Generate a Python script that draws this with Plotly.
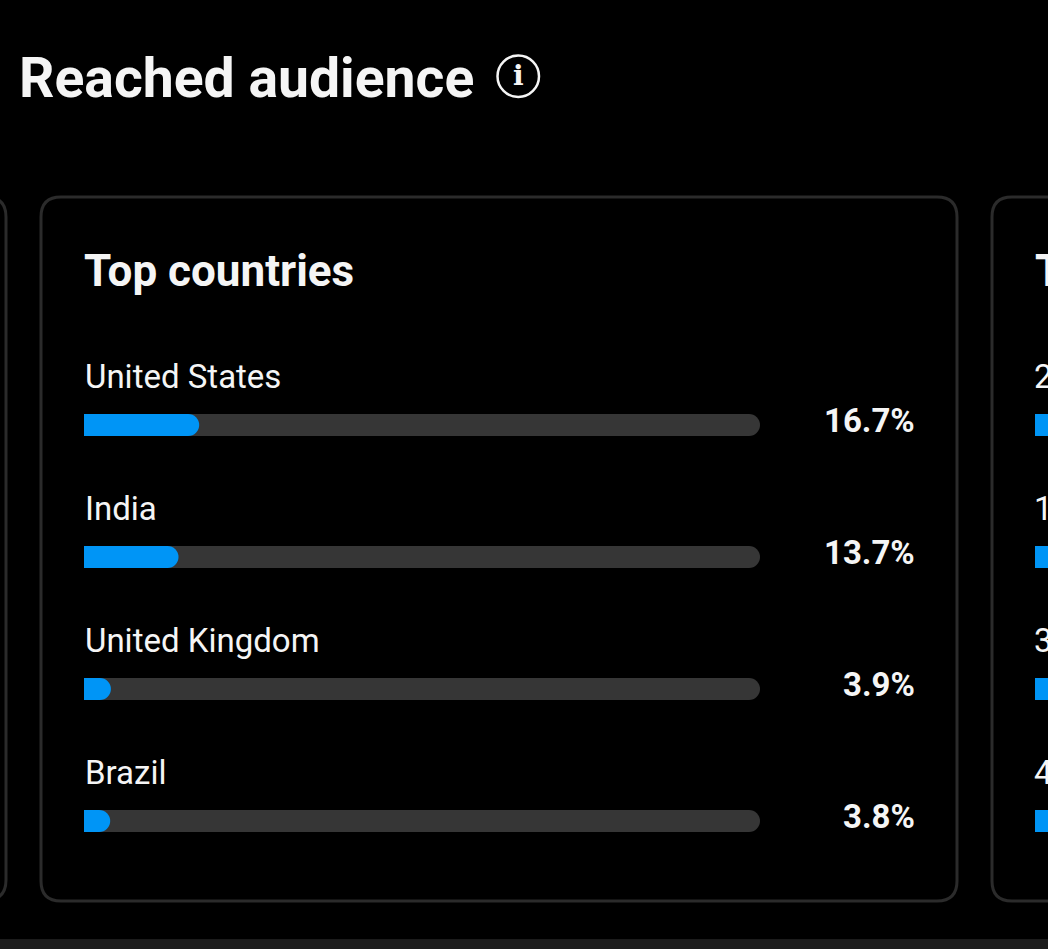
"""Reached audience card: top countries as progress-style horizontal bars."""

import plotly.graph_objects as go

W = 1048
H = 949

COUNTRIES = ["United States", "India", "United Kingdom", "Brazil"]
SHARES = [16.7, 13.7, 3.9, 3.8]
TRACK_MAX = [100, 100, 100, 100]

# next card, cut off by the window edge (only the first glyphs are visible)
NEXT_TITLE = "T"
NEXT_LABELS = ["2", "1", "3", "4"]
NEXT_SHARES = [30, 30, 30, 30]
NEXT_ROWS = ["r1", "r2", "r3", "r4"]

BLUE = "#0095f6"
TRACK = "#363636"
TEXT = "#f5f5f5"
BORDER = "#2b2b2b"
FONT = "Roboto"


def px(x):
    return x / W


def py(y):
    return 1 - y / H


def card(x0, y0, x1, y1, r=20):
    path = (
        f"M {px(x0 + r)} {py(y0)} L {px(x1 - r)} {py(y0)} "
        f"Q {px(x1)} {py(y0)} {px(x1)} {py(y0 + r)} L {px(x1)} {py(y1 - r)} "
        f"Q {px(x1)} {py(y1)} {px(x1 - r)} {py(y1)} L {px(x0 + r)} {py(y1)} "
        f"Q {px(x0)} {py(y1)} {px(x0)} {py(y1 - r)} L {px(x0)} {py(y0 + r)} "
        f"Q {px(x0)} {py(y0)} {px(x0 + r)} {py(y0)} Z"
    )
    return dict(type="path", xref="paper", yref="paper", path=path,
                line=dict(color=BORDER, width=3), layer="below")


fig = go.Figure()

# -- main card: grey track, blue share on its own axes so the tip keeps its rounding
fig.add_trace(go.Bar(y=COUNTRIES, x=TRACK_MAX, orientation="h", marker=dict(color=TRACK, line=dict(width=0)),
                     width=1 / 6, hoverinfo="skip", showlegend=False))
fig.add_trace(go.Bar(y=COUNTRIES, x=SHARES, orientation="h", marker=dict(color=BLUE, line=dict(width=0)),
                     width=1 / 6, xaxis="x2", yaxis="y2", showlegend=False))

# -- clipped neighbour card, same row spacing, its bars run off the page
fig.add_trace(go.Bar(y=NEXT_ROWS, x=NEXT_SHARES, orientation="h", marker=dict(color=BLUE, line=dict(width=0)),
                     width=1 / 6, xaxis="x3", yaxis="y3", hoverinfo="skip", showlegend=False))

annotations = [
    dict(text="<b>Reached audience</b>", xref="paper", yref="paper", x=px(17), y=py(78), xanchor="left",
         yanchor="middle", showarrow=False, font=dict(family=FONT, size=55.3, color=TEXT)),
    dict(text="<b>i</b>", xref="paper", yref="paper", x=px(518), y=py(75), xanchor="center", yanchor="middle",
         showarrow=False, font=dict(family="DejaVu Serif", size=28, color=TEXT)),
    dict(text="<b>Top countries</b>", xref="paper", yref="paper", x=px(82), y=py(271), xanchor="left",
         yanchor="middle", showarrow=False, font=dict(family=FONT, size=44, color=TEXT)),
    dict(text=f"<b>{NEXT_TITLE}</b>", xref="paper", yref="paper", x=px(1033), y=py(271), xanchor="left",
         yanchor="middle", showarrow=False, font=dict(family=FONT, size=44, color=TEXT)),
]

for name, share in zip(COUNTRIES, SHARES):
    annotations.append(dict(text=name, xref="x", yref="y", x=0, y=name, xanchor="left", yanchor="middle", yshift=49,
                            xshift=-1.5, showarrow=False, font=dict(family=FONT, size=33, color=TEXT)))
    annotations.append(dict(text=f"<b>{share}%</b>", xref="paper", yref="y", x=px(917), y=name, xanchor="right",
                            yanchor="middle", yshift=5, showarrow=False,
                            font=dict(family=FONT, size=33, color=TEXT)))

for row, label in zip(NEXT_ROWS, NEXT_LABELS):
    annotations.append(dict(text=label, xref="paper", yref="y3", x=px(1032), y=row, xanchor="left", yanchor="middle",
                            yshift=49, showarrow=False, font=dict(family=FONT, size=33, color=TEXT)))

shapes = [
    card(-40, 197, 6, 900),
    card(41, 197, 957, 901),
    card(992, 197, 1200, 901),
    dict(type="rect", xref="paper", yref="paper", x0=0, x1=1, y0=py(949), y1=py(939),
         fillcolor="#1c1c1c", line=dict(width=0), layer="below"),
    dict(type="circle", xref="paper", yref="paper", x0=px(497.5), x1=px(539), y0=py(97), y1=py(55.5),
         line=dict(color=TEXT, width=2.5)),
]

no_axis = dict(showgrid=False, zeroline=False, showticklabels=False, showline=False, ticks="")
row_domain = [py(887), py(359)]
fig.update_layout(
    width=W,
    height=H,
    margin=dict(l=0, r=0, t=0, b=0),
    paper_bgcolor="#000000",
    plot_bgcolor="rgba(0,0,0,0)",
    barcornerradius=11,
    annotations=annotations,
    shapes=shapes,
    xaxis=dict(domain=[px(84), px(760)], range=[0, 100], **no_axis),
    yaxis=dict(domain=row_domain, range=[3.5, -0.5], type="category", categoryorder="array",
               categoryarray=COUNTRIES, **no_axis),
    # the reference's blue fills run a touch longer than a strict 0-100 scale
    xaxis2=dict(domain=[px(84), px(760)], range=[0, 98], anchor="y2", **no_axis),
    yaxis2=dict(domain=row_domain, range=[3.5, -0.5], type="category", categoryorder="array",
                categoryarray=COUNTRIES, anchor="x2", **no_axis),
    xaxis3=dict(domain=[px(1035), 1], range=[0, 2], anchor="y3", **no_axis),
    yaxis3=dict(domain=row_domain, range=[3.5, -0.5], type="category", categoryorder="array",
                categoryarray=NEXT_ROWS, anchor="x3", **no_axis),
)

# the page's default body margin would push the figure off the window
fig.write_html("out.html", config=dict(displayModeBar=False),
               post_script="document.body.style.margin='0';document.body.style.background='#000';")
